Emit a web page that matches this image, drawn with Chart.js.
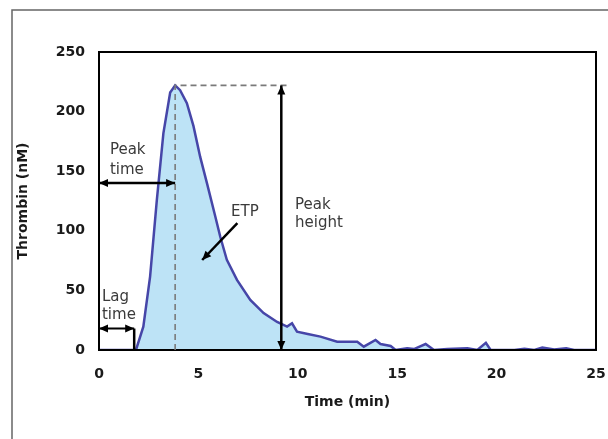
<!DOCTYPE html>
<html>
<head>
<meta charset="utf-8">
<script src="https://cdn.jsdelivr.net/npm/chart.js@4.4.1/dist/chart.umd.min.js"></script>
<style>
  html, body { margin: 0; padding: 0; background: #fff; }
  #wrap { width: 608px; height: 439px; }
</style>
</head>
<body>
<div id="wrap"><canvas id="myChart" width="608" height="439"></canvas></div>
<script>
// thrombin generation curve
var times = [0, 1.86, 2.23, 2.57, 2.91, 3.24, 3.58, 3.83, 4.08, 4.42, 4.75, 5.09, 5.43, 5.85, 6.10, 6.43,
  6.94, 7.61, 8.28, 8.96, 9.46, 9.71, 9.96, 10.5, 11.14, 11.98, 12.99, 13.32, 13.91, 14.16, 14.67,
  14.92, 15.5, 15.84, 16.43, 16.85, 17.52, 18.53, 19.03, 19.46, 19.7, 20.9, 21.4, 21.9, 22.3, 22.9,
  23.5, 23.9, 25];
var thrombin = [0, 0, 19.6, 61.6, 126, 182, 216, 222, 218, 207, 188, 162, 140, 112, 95, 75.6,
  58.8, 42, 31, 23.5, 19.6, 22.4, 15.4, 13.5, 11.2, 7, 7, 2.8, 8.4, 5, 3.4,
  0, 1.4, 0.8, 5, 0, 0.8, 1.4, 0, 6, 0, 0, 1, 0, 2, 0.5,
  1.4, 0, 0];

var xTicks = [0, 5, 10, 15, 20, 25];
var yTicks = [0, 50, 100, 150, 200, 250];

// annotation values (min, nM)
var lagTime = 1.77;
var lagMark = 18;
var peakTime = 3.83;
var peakHeight = 222;
var peakTimeMark = 140;
var peakHeightAt = 9.17;
var dashEnd = 9.5;
var etpArrow = [[6.96, 106.5], [5.19, 75.5]];
var labels = [
  { text: ["Peak", "time"], x: 0.55, y: [168, 151], align: "left" },
  { text: ["Lag", "time"], x: 0.15, y: [44.5, 29.4], align: "left" },
  { text: ["ETP"], x: 7.34, y: [116], align: "center" },
  { text: ["Peak", "height"], x: 9.86, y: [121.6, 106.5], align: "left" }
];

var points = [];
for (let i = 0; i < times.length; i++) {
  points.push({ x: times[i], y: thrombin[i] });
}

function arrowHead(ctx, x1, y1, x2, y2) {
  var ang = Math.atan2(y2 - y1, x2 - x1);
  var len = 9, w = 4;
  ctx.beginPath();
  ctx.moveTo(x2, y2);
  ctx.lineTo(x2 - len * Math.cos(ang) + w * Math.sin(ang), y2 - len * Math.sin(ang) - w * Math.cos(ang));
  ctx.lineTo(x2 - len * Math.cos(ang) - w * Math.sin(ang), y2 - len * Math.sin(ang) + w * Math.cos(ang));
  ctx.closePath();
  ctx.fill();
}

function arrow(ctx, x1, y1, x2, y2, both) {
  ctx.beginPath();
  ctx.moveTo(x1, y1);
  ctx.lineTo(x2, y2);
  ctx.stroke();
  arrowHead(ctx, x1, y1, x2, y2);
  if (both) arrowHead(ctx, x2, y2, x1, y1);
}

var framePlugin = {
  id: "frame",
  beforeDraw: function (chart) {
    var ctx = chart.ctx;
    ctx.save();
    ctx.fillStyle = "#fff";
    ctx.fillRect(0, 0, chart.width, chart.height);
    ctx.strokeStyle = "#666";
    ctx.lineWidth = 1.5;
    ctx.beginPath();
    ctx.moveTo(12, chart.height);
    ctx.lineTo(12, 10);
    ctx.lineTo(chart.width, 10);
    ctx.stroke();
    ctx.restore();
  },
  afterDraw: function (chart) {
    var ctx = chart.ctx;
    var a = chart.chartArea;
    var xs = chart.scales.x, ys = chart.scales.y;
    var px = function (v) { return xs.getPixelForValue(v); };
    var py = function (v) { return ys.getPixelForValue(v); };
    ctx.save();
    ctx.strokeStyle = "#000";
    ctx.lineWidth = 2;
    ctx.strokeRect(a.left, a.top, a.right - a.left, a.bottom - a.top);

    // dashed guides
    ctx.strokeStyle = "#7a7a7a";
    ctx.lineWidth = 1.6;
    ctx.setLineDash([6, 4]);
    ctx.beginPath();
    ctx.moveTo(px(peakTime), py(0));
    ctx.lineTo(px(peakTime), py(peakHeight));
    ctx.lineTo(px(dashEnd), py(peakHeight));
    ctx.stroke();
    ctx.setLineDash([]);

    // arrows
    ctx.strokeStyle = "#000";
    ctx.fillStyle = "#000";
    ctx.lineWidth = 2.5;
    arrow(ctx, px(0), py(peakTimeMark), px(peakTime), py(peakTimeMark), true);
    arrow(ctx, px(peakHeightAt), py(0), px(peakHeightAt), py(peakHeight), true);
    arrow(ctx, px(etpArrow[0][0]), py(etpArrow[0][1]), px(etpArrow[1][0]), py(etpArrow[1][1]), false);
    ctx.lineWidth = 2;
    arrow(ctx, px(0), py(lagMark), px(lagTime), py(lagMark), true);
    ctx.lineWidth = 2.5;
    ctx.beginPath();
    ctx.moveTo(px(lagTime), py(lagMark));
    ctx.lineTo(px(lagTime), py(0));
    ctx.stroke();

    // labels
    ctx.fillStyle = "#3a3a3a";
    ctx.font = "15px 'DejaVu Sans'";
    ctx.textBaseline = "middle";
    labels.forEach(function (l) {
      ctx.textAlign = l.align;
      for (let i = 0; i < l.text.length; i++) {
        ctx.fillText(l.text[i], px(l.x), py(l.y[i]));
      }
    });
    ctx.restore();
  }
};

var tickFont = { family: "'DejaVu Sans'", size: 14, weight: "bold" };

new Chart("myChart", {
  type: "line",
  data: {
    datasets: [{
      data: points,
      borderColor: "#4646a8",
      borderWidth: 2.5,
      backgroundColor: "rgba(185, 226, 246, 0.95)",
      fill: "origin",
      pointRadius: 0,
      tension: 0
    }]
  },
  options: {
    responsive: false,
    animation: false,
    layout: { padding: { left: 0, top: 52, right: 12, bottom: 19 } },
    plugins: { legend: { display: false }, tooltip: { enabled: false } },
    scales: {
      x: {
        type: "linear",
        min: 0,
        max: 25,
        afterBuildTicks: function (scale) {
          scale.ticks = xTicks.map(function (v) { return { value: v }; });
        },
        afterFit: function (scale) {
          scale.height = 70;
          scale.paddingLeft = 0;
          scale.paddingRight = 0;
        },
        grid: { display: false, drawTicks: false },
        border: { display: true, color: "#000", width: 2 },
        ticks: { font: tickFont, color: "#1a1a1a", padding: 16, maxRotation: 0 },
        title: {
          display: true,
          text: "Time (min)",
          font: tickFont,
          color: "#1a1a1a",
          padding: { top: 0, bottom: 9 }
        }
      },
      y: {
        min: 0,
        max: 250,
        afterBuildTicks: function (scale) {
          scale.ticks = yTicks.map(function (v) { return { value: v }; });
        },
        afterFit: function (scale) {
          scale.width = 99;
          scale.paddingTop = 0;
          scale.paddingBottom = 0;
        },
        grid: { display: false, drawTicks: false },
        border: { display: true, color: "#000", width: 2 },
        ticks: { font: tickFont, color: "#1a1a1a", padding: 14 },
        title: {
          display: true,
          text: "Thrombin (nM)",
          font: tickFont,
          color: "#1a1a1a",
          padding: { top: 15, bottom: 0 }
        }
      }
    }
  },
  plugins: [framePlugin]
});
</script>
</body>
</html>
